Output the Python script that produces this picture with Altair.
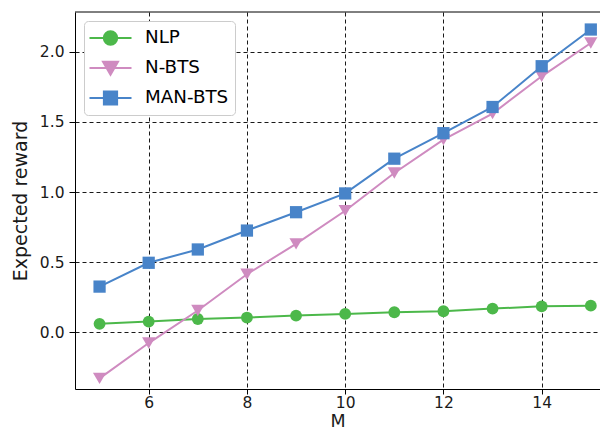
import altair as alt
import pandas as pd

# ---- data ----
M = [5, 6, 7, 8, 9, 10, 11, 12, 13, 14, 15]
nlp = [0.059, 0.075, 0.094, 0.104, 0.118, 0.130, 0.142, 0.149, 0.168, 0.184, 0.189]
nbts = [-0.33, -0.078, 0.154, 0.413, 0.63, 0.866, 1.136, 1.374, 1.56, 1.826, 2.064]
manbts = [0.325, 0.495, 0.59, 0.725, 0.856, 0.99, 1.238, 1.42, 1.607, 1.898, 2.16]
series_names = ["NLP", "N-BTS", "MAN-BTS"]
colors = ["#4cb84a", "#cf8bc0", "#4884c9"]
x_ticks = [6, 8, 10, 12, 14]
y_ticks = [0.0, 0.5, 1.0, 1.5, 2.0]

rows = []
for name, vals in zip(series_names, [nlp, nbts, manbts]):
    for m, v in zip(M, vals):
        rows.append({"M": m, "value": v, "series": name})
df = pd.DataFrame(rows)

FONT = "DejaVu Sans"
W, H = 525, 377
PX_PER_UNIT_Y = 140.1
x_scale = alt.Scale(domain=[4.5, 4.5 + W / 49.125], nice=False, zero=False)
y_scale = alt.Scale(domain=[2.285 - H / PX_PER_UNIT_Y, 2.285], nice=False, zero=False)
color_scale = alt.Scale(domain=series_names, range=colors)

# legend symbols: short line with the marker on it
legend_paths = [
    "M-2.1,0H2.1M0.67,0A0.67,0.67,0,1,1,-0.67,0A0.67,0.67,0,1,1,0.67,0Z",
    "M-2.1,0H2.1M-0.75,-0.62L0.75,-0.62L0,0.68Z",
    "M-2.1,0H2.1M-0.66,-0.66H0.66V0.66H-0.66Z",
]
marker_shapes = ["circle", "triangle-down", "square"]
marker_sizes = [140, 175, 150]

x_axis = alt.Axis(values=x_ticks, title="M", grid=True)
y_axis = alt.Axis(values=y_ticks, format=".1f", title="Expected reward", grid=True)

base = alt.Chart(df)

legend_props = dict(
    title=None, orient="none", legendX=9, legendY=9, padding=6,
    fillColor="white", strokeColor="#cccccc", cornerRadius=4,
    symbolSize=400, symbolStrokeWidth=2, symbolOpacity=1, symbolOffset=9.5,
    labelFontSize=18.3, labelFont=FONT, labelColor="black",
    labelOffset=23.5, rowPadding=8,
)

helper = base.mark_point(filled=True, opacity=0).encode(
    x=alt.X("M:Q", scale=x_scale, axis=x_axis),
    y=alt.Y("value:Q", scale=y_scale, axis=y_axis),
    fill=alt.Fill("series:N", scale=color_scale, legend=alt.Legend(**legend_props)),
    stroke=alt.Stroke("series:N", scale=color_scale, legend=alt.Legend(**legend_props)),
    shape=alt.Shape("series:N", scale=alt.Scale(domain=series_names, range=legend_paths),
                    legend=alt.Legend(**legend_props)),
)

lines = base.mark_line(strokeWidth=2).encode(
    x=alt.X("M:Q", scale=x_scale, axis=x_axis),
    y=alt.Y("value:Q", scale=y_scale, axis=y_axis),
    color=alt.Color("series:N", scale=color_scale, legend=None),
)

point_layers = []
for name, shp, sz in zip(series_names, marker_shapes, marker_sizes):
    point_layers.append(
        base.transform_filter(alt.datum.series == name)
        .mark_point(filled=True, opacity=1, shape=shp, size=sz)
        .encode(
            x=alt.X("M:Q", scale=x_scale, axis=x_axis),
            y=alt.Y("value:Q", scale=y_scale, axis=y_axis),
            color=alt.Color("series:N", scale=color_scale, legend=None),
        )
    )

# top frame line of the plot area (the right edge is cut off in the reference)
frame_top = alt.Chart(pd.DataFrame({"k": [0]})).mark_rule(color="black", strokeWidth=1).encode(
    x=alt.value(0), x2=alt.value(W), y=alt.value(0)
)

chart = (
    alt.layer(helper, lines, *point_layers, frame_top)
    .properties(
        width=W, height=H,
        autosize=alt.AutoSizeParams(type="none"),
        padding={"left": 67, "top": 4, "right": 0, "bottom": 425 - 4 - H},
    )
    .configure_view(stroke=None)
    .configure_axis(
        labelFont=FONT, titleFont=FONT, labelFontSize=15.5, titleFontSize=19,
        titleFontWeight="normal", labelColor="#1a1a1a", titleColor="#1a1a1a",
        tickColor="black", domainColor="black", gridColor="black",
        gridDash=[4, 3], gridOpacity=0.9, gridWidth=1, tickSize=6,
    )
    .configure_axisY(labelPadding=5, titlePadding=9)
    .configure_axisX(labelPadding=1, titlePadding=2, tickSize=5, titleFontSize=17.5)
)

chart.save("out.html", embed_options={"renderer": "svg", "actions": False})
